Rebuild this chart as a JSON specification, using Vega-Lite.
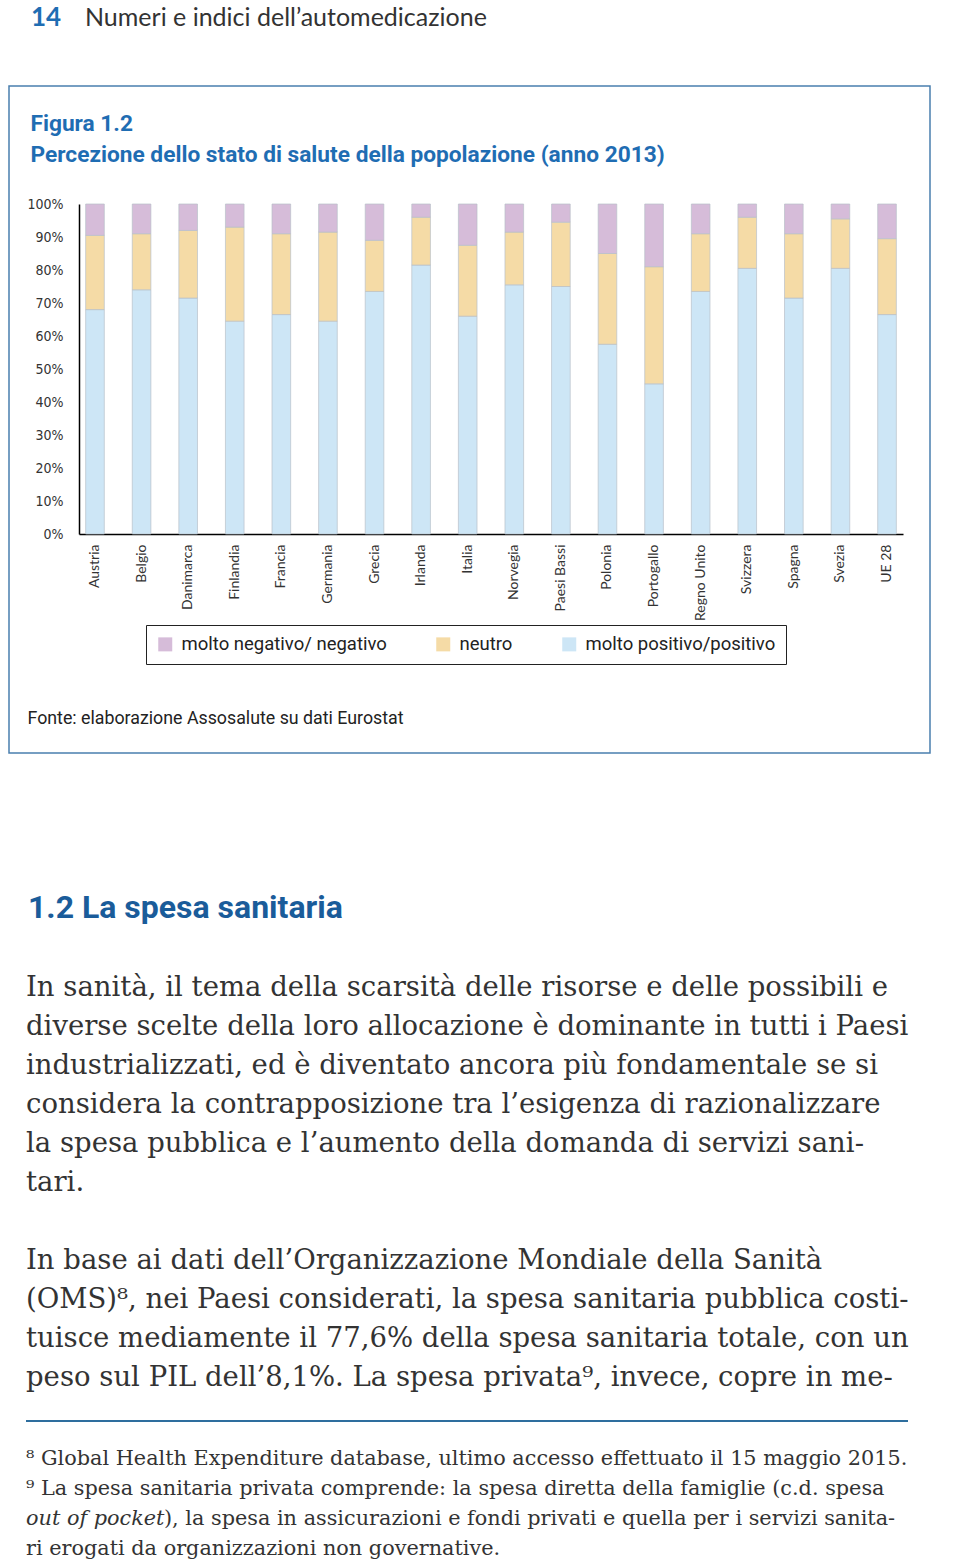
{
  "$schema": "https://vega.github.io/schema/vega-lite/v6.json",
  "padding": {"left": 8, "top": 0, "right": 0, "bottom": 0},
  "autosize": {"type": "pad"},
  "background": "white",
  "spacing": 0,
  "config": {
    "view": {"stroke": null},
    "concat": {"spacing": 0}
  },
  "vconcat": [
    {
      "width": 921,
      "height": 85,
      "data": {"values": [
        {"parte": "numero", "testo": "14"},
        {"parte": "titolo", "testo": "Numeri e indici dell’automedicazione"}
      ]},
      "encoding": {
        "x": {"field": "parte", "type": "nominal", "sort": ["numero", "titolo"], "scale": {"type": "point", "padding": 0, "range": [22, 76]}, "axis": null},
        "text": {"field": "testo"}
      },
      "layer": [
        {
          "transform": [{"filter": "datum.parte === 'numero'"}],
          "mark": {"type": "text", "align": "left", "baseline": "alphabetic", "dy": -16.5, "font": "Lato", "fontWeight": "bold", "fontSize": 26, "color": "#1f6db3"}
        },
        {
          "transform": [{"filter": "datum.parte === 'titolo'"}],
          "mark": {"type": "text", "align": "left", "baseline": "alphabetic", "dy": -16.5, "font": "Lato", "fontSize": 25, "color": "#333333"}
        }
      ]
    },
    {
      "width": 921,
      "height": 667,
      "view": {"stroke": "#4a7fae", "strokeWidth": 1.5},
      "data": {"values": [
        {"paese": "Austria", "categoria": "molto positivo/positivo", "valore": 68},
        {"paese": "Austria", "categoria": "neutro", "valore": 22.5},
        {"paese": "Austria", "categoria": "molto negativo/ negativo", "valore": 9.5},
        {"paese": "Belgio", "categoria": "molto positivo/positivo", "valore": 74},
        {"paese": "Belgio", "categoria": "neutro", "valore": 17},
        {"paese": "Belgio", "categoria": "molto negativo/ negativo", "valore": 9},
        {"paese": "Danimarca", "categoria": "molto positivo/positivo", "valore": 71.5},
        {"paese": "Danimarca", "categoria": "neutro", "valore": 20.5},
        {"paese": "Danimarca", "categoria": "molto negativo/ negativo", "valore": 8},
        {"paese": "Finlandia", "categoria": "molto positivo/positivo", "valore": 64.5},
        {"paese": "Finlandia", "categoria": "neutro", "valore": 28.5},
        {"paese": "Finlandia", "categoria": "molto negativo/ negativo", "valore": 7},
        {"paese": "Francia", "categoria": "molto positivo/positivo", "valore": 66.5},
        {"paese": "Francia", "categoria": "neutro", "valore": 24.5},
        {"paese": "Francia", "categoria": "molto negativo/ negativo", "valore": 9},
        {"paese": "Germania", "categoria": "molto positivo/positivo", "valore": 64.5},
        {"paese": "Germania", "categoria": "neutro", "valore": 27},
        {"paese": "Germania", "categoria": "molto negativo/ negativo", "valore": 8.5},
        {"paese": "Grecia", "categoria": "molto positivo/positivo", "valore": 73.5},
        {"paese": "Grecia", "categoria": "neutro", "valore": 15.5},
        {"paese": "Grecia", "categoria": "molto negativo/ negativo", "valore": 11},
        {"paese": "Irlanda", "categoria": "molto positivo/positivo", "valore": 81.5},
        {"paese": "Irlanda", "categoria": "neutro", "valore": 14.5},
        {"paese": "Irlanda", "categoria": "molto negativo/ negativo", "valore": 4},
        {"paese": "Italia", "categoria": "molto positivo/positivo", "valore": 66},
        {"paese": "Italia", "categoria": "neutro", "valore": 21.5},
        {"paese": "Italia", "categoria": "molto negativo/ negativo", "valore": 12.5},
        {"paese": "Norvegia", "categoria": "molto positivo/positivo", "valore": 75.5},
        {"paese": "Norvegia", "categoria": "neutro", "valore": 16},
        {"paese": "Norvegia", "categoria": "molto negativo/ negativo", "valore": 8.5},
        {"paese": "Paesi Bassi", "categoria": "molto positivo/positivo", "valore": 75},
        {"paese": "Paesi Bassi", "categoria": "neutro", "valore": 19.5},
        {"paese": "Paesi Bassi", "categoria": "molto negativo/ negativo", "valore": 5.5},
        {"paese": "Polonia", "categoria": "molto positivo/positivo", "valore": 57.5},
        {"paese": "Polonia", "categoria": "neutro", "valore": 27.5},
        {"paese": "Polonia", "categoria": "molto negativo/ negativo", "valore": 15},
        {"paese": "Portogallo", "categoria": "molto positivo/positivo", "valore": 45.5},
        {"paese": "Portogallo", "categoria": "neutro", "valore": 35.5},
        {"paese": "Portogallo", "categoria": "molto negativo/ negativo", "valore": 19},
        {"paese": "Regno Unito", "categoria": "molto positivo/positivo", "valore": 73.5},
        {"paese": "Regno Unito", "categoria": "neutro", "valore": 17.5},
        {"paese": "Regno Unito", "categoria": "molto negativo/ negativo", "valore": 9},
        {"paese": "Svizzera", "categoria": "molto positivo/positivo", "valore": 80.5},
        {"paese": "Svizzera", "categoria": "neutro", "valore": 15.5},
        {"paese": "Svizzera", "categoria": "molto negativo/ negativo", "valore": 4},
        {"paese": "Spagna", "categoria": "molto positivo/positivo", "valore": 71.5},
        {"paese": "Spagna", "categoria": "neutro", "valore": 19.5},
        {"paese": "Spagna", "categoria": "molto negativo/ negativo", "valore": 9},
        {"paese": "Svezia", "categoria": "molto positivo/positivo", "valore": 80.5},
        {"paese": "Svezia", "categoria": "neutro", "valore": 15},
        {"paese": "Svezia", "categoria": "molto negativo/ negativo", "valore": 4.5},
        {"paese": "UE 28", "categoria": "molto positivo/positivo", "valore": 66.5},
        {"paese": "UE 28", "categoria": "neutro", "valore": 23},
        {"paese": "UE 28", "categoria": "molto negativo/ negativo", "valore": 10.5}
      ]},
      "transform": [
        {"calculate": "indexof(['molto positivo/positivo', 'neutro', 'molto negativo/ negativo'], datum.categoria)", "as": "ordine"}
      ],
      "mark": {"type": "bar", "stroke": "#b7c0c8", "strokeWidth": 0.7},
      "encoding": {
        "x": {
          "field": "paese", "type": "nominal",
          "sort": ["Austria", "Belgio", "Danimarca", "Finlandia", "Francia", "Germania", "Grecia", "Irlanda", "Italia", "Norvegia", "Paesi Bassi", "Polonia", "Portogallo", "Regno Unito", "Svizzera", "Spagna", "Svezia", "UE 28"],
          "scale": {"range": [70, 894], "paddingInner": 0.6, "paddingOuter": 0.143},
          "axis": {
            "orient": "bottom", "offset": -219,
            "labelAngle": -90, "labelFont": "Lato", "labelFontSize": 14, "labelColor": "#333333", "labelPadding": 10,
            "ticks": false, "domainColor": "#000000", "domainWidth": 1.5, "grid": false,
            "title": "Fonte: elaborazione Assosalute su dati Eurostat",
            "titleX": 18, "titleY": 189, "titleAlign": "left", "titleAnchor": null, "titleBaseline": "alphabetic", "titleAngle": 0,
            "titleFont": "Roboto", "titleFontSize": 17.8, "titleFontWeight": "normal", "titleColor": "#222222"
          }
        },
        "y": {
          "field": "valore", "type": "quantitative", "stack": "zero",
          "scale": {"domain": [0, 100], "range": [448, 118], "nice": false},
          "axis": {
            "orient": "left", "offset": -70,
            "values": [0, 10, 20, 30, 40, 50, 60, 70, 80, 90, 100],
            "labelExpr": "datum.value + '%'",
            "labelFont": "DejaVu Sans Condensed", "labelFontSize": 14, "labelColor": "#333333", "labelPadding": 16,
            "ticks": false, "grid": false, "domainColor": "#000000", "domainWidth": 1.5,
            "title": ["Figura 1.2", "Percezione dello stato di salute della popolazione (anno 2013)"],
            "titleX": -49, "titleY": 44, "titleAngle": 0, "titleAlign": "left", "titleAnchor": null, "titleBaseline": "alphabetic", "titleLineHeight": 31,
            "titleFont": "Roboto", "titleFontSize": 22.7, "titleFontWeight": "bold", "titleColor": "#1f6db3"
          }
        },
        "color": {
          "field": "categoria", "type": "nominal",
          "scale": {"domain": ["molto negativo/ negativo", "neutro", "molto positivo/positivo"], "range": ["#d6bcd9", "#f5dba6", "#cde6f6"]},
          "legend": {
            "orient": "none", "legendX": 137, "legendY": 625, "direction": "horizontal", "title": null,
            "strokeColor": "#222222", "padding": 10, "symbolType": "square", "symbolSize": 196, "symbolStrokeWidth": 0,
            "labelFont": "Roboto", "labelFontSize": 18.5, "labelColor": "#222222",
            "labelLimit": 400, "columnPadding": 47, "labelOffset": 7
          }
        },
        "order": {"field": "ordine", "type": "quantitative"}
      }
    },
    {
      "width": 882,
      "height": 670.8,
      "layer": [
        {
          "data": {"values": [
            {"riga": -1, "testo": "1.2  La spesa sanitaria"}
          ]},
          "mark": {"type": "text", "align": "left", "baseline": "alphabetic", "dx": 19, "font": "Roboto", "fontWeight": "bold", "fontSize": 32, "color": "#1a5c9a"},
          "encoding": {
            "x": {"datum": 0, "type": "quantitative", "scale": {"domain": [0, 1]}, "axis": null},
            "y": {"field": "riga", "type": "quantitative", "scale": {"domain": [-5.2, 12], "reverse": true, "zero": false, "nice": false}, "axis": null},
            "text": {"field": "testo"}
          }
        },
        {
          "data": {"values": [
            {"riga": 1, "testo": "In sanità, il tema della scarsità delle risorse e delle possibili e"},
            {"riga": 2, "testo": "diverse scelte della loro allocazione è dominante in tutti i Paesi"},
            {"riga": 3, "testo": "industrializzati, ed è diventato ancora più fondamentale se si"},
            {"riga": 4, "testo": "considera la contrapposizione tra l’esigenza di razionalizzare"},
            {"riga": 5, "testo": "la spesa pubblica e l’aumento della domanda di servizi sani-"},
            {"riga": 6, "testo": "tari."},
            {"riga": 8, "testo": "In base ai dati dell’Organizzazione Mondiale della Sanità"},
            {"riga": 9, "testo": "(OMS)⁸, nei Paesi considerati, la spesa sanitaria pubblica costi-"},
            {"riga": 10, "testo": "tuisce mediamente il 77,6% della spesa sanitaria totale, con un"},
            {"riga": 11, "testo": "peso sul PIL dell’8,1%. La spesa privata⁹, invece, copre in me-"}
          ]},
          "mark": {"type": "text", "align": "left", "baseline": "alphabetic", "dx": 17, "font": "DejaVu Serif", "fontSize": 27.5, "color": "#333333"},
          "encoding": {
            "x": {"datum": 0, "type": "quantitative", "scale": {"domain": [0, 1]}, "axis": null},
            "y": {"field": "riga", "type": "quantitative", "scale": {"domain": [-5.2, 12], "reverse": true, "zero": false, "nice": false}, "axis": null},
            "text": {"field": "testo"}
          }
        },
        {
          "data": {"values": [{"riga": 11.9, "elemento": "separatore note"}]},
          "mark": {"type": "rule", "color": "#2e6e9e", "strokeWidth": 2, "xOffset": 17, "x2Offset": 17},
          "encoding": {
            "x": {"datum": 0, "type": "quantitative", "scale": {"domain": [0, 1]}, "axis": null},
            "x2": {"datum": 1},
            "y": {"field": "riga", "type": "quantitative", "scale": {"domain": [-5.2, 12], "reverse": true, "zero": false, "nice": false}, "axis": null}
          }
        }
      ]
    },
    {
      "width": 882,
      "height": 136.2,
      "data": {"values": [
        {"riga": 1, "stile": "tondo", "testo": "⁸ Global Health Expenditure database, ultimo accesso effettuato il 15 maggio 2015."},
        {"riga": 2, "stile": "tondo", "testo": "⁹ La spesa sanitaria privata comprende: la spesa diretta della famiglie (c.d. spesa"},
        {"riga": 3, "stile": "corsivo", "testo": "out of pocket"},
        {"riga": 3, "stile": "seguito", "testo": "), la spesa in assicurazioni e fondi privati e quella per i servizi sanita-"},
        {"riga": 4, "stile": "tondo", "testo": "ri erogati da organizzazioni non governative."}
      ]},
      "encoding": {
        "x": {"datum": 0, "type": "quantitative", "scale": {"domain": [0, 1]}, "axis": null},
        "y": {"field": "riga", "type": "quantitative", "scale": {"domain": [-0.34, 4.2], "reverse": true, "zero": false, "nice": false}, "axis": null},
        "text": {"field": "testo"}
      },
      "layer": [
        {
          "transform": [{"filter": "datum.stile === 'tondo'"}],
          "mark": {"type": "text", "align": "left", "baseline": "alphabetic", "dx": 17, "font": "DejaVu Serif", "fontSize": 20.8, "color": "#333333"}
        },
        {
          "transform": [{"filter": "datum.stile === 'corsivo'"}],
          "mark": {"type": "text", "align": "left", "baseline": "alphabetic", "dx": 17, "font": "DejaVu Serif", "fontStyle": "italic", "fontSize": 20.8, "color": "#333333"}
        },
        {
          "transform": [{"filter": "datum.stile === 'seguito'"}],
          "mark": {"type": "text", "align": "left", "baseline": "alphabetic", "dx": 155, "font": "DejaVu Serif", "fontSize": 20.8, "color": "#333333"}
        }
      ]
    }
  ]
}
